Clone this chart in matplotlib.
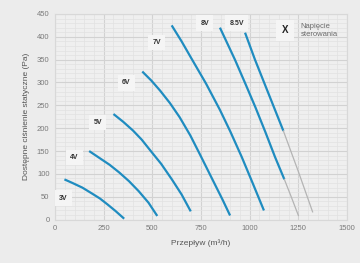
import matplotlib
matplotlib.use("Agg")
import matplotlib.pyplot as plt
from matplotlib.ticker import MultipleLocator

plt.rcParams["font.family"] = ["Liberation Sans Narrow", "Liberation Sans", "DejaVu Sans"]

# fan curves: (flow m3/h, pressure Pa)
v3_x = [48, 90, 140, 190, 231, 270, 310, 355]
v3_y = [88, 80, 70, 57, 46, 33, 19, 2]
v4_x = [175, 231, 280, 330, 380, 430, 480, 525]
v4_y = [150, 134, 120, 103, 84, 62, 37, 8]
v5_x = [300, 350, 400, 445, 488, 545, 600, 650, 697]
v5_y = [231, 214, 195, 175, 152, 122, 88, 55, 18]
v6_x = [448, 495, 540, 590, 640, 695, 745, 820, 860, 899]
v6_y = [324, 304, 282, 255, 224, 184, 142, 78, 44, 9]
v7_x = [599, 650, 700, 775, 847, 900, 959, 1015, 1073]
v7_y = [425, 390, 353, 298, 240, 193, 137, 80, 20]
v8_x = [847, 924, 980, 1030, 1080, 1130, 1178]
v8_y = [420, 350, 295, 245, 192, 137, 88]
v8_ext_x = [1178, 1215, 1250]
v8_ext_y = [88, 48, 9]
v85_x = [976, 1027, 1100, 1173]
v85_y = [409, 350, 272, 194]
v85_ext_x = [1173, 1250, 1323]
v85_ext_y = [194, 105, 17]

labels = ["3V", "4V", "5V", "6V", "7V", "8V", "8.5V"]
label_x = [42, 98, 219, 365, 522, 770, 933]
label_y = [47, 136, 212, 299, 388, 430, 430]

blue = "#1f8cc0"
grey = "#b4b4b4"
tick_col = "#7a7a7a"

fig = plt.figure(figsize=(3.6, 2.63), dpi=100)
fig.patch.set_facecolor("#ececec")
ax = fig.add_axes([0.153, 0.165, 0.811, 0.782])
ax.set_facecolor("#efefef")

ax.set_xlim(0, 1500)
ax.set_ylim(0, 450)
ax.xaxis.set_major_locator(MultipleLocator(250))
ax.xaxis.set_minor_locator(MultipleLocator(50))
ax.yaxis.set_major_locator(MultipleLocator(50))
ax.yaxis.set_minor_locator(MultipleLocator(10))
ax.grid(which="major", color="#d2d2d2", linewidth=0.8)
ax.grid(which="minor", color="#e2e2e2", linewidth=0.5)
ax.set_axisbelow(True)
ax.tick_params(which="both", length=0, labelsize=5.5, colors=tick_col, pad=4)
for s in ax.spines.values():
    s.set_color("#d8d8d8")
    s.set_linewidth(0.8)

for xs, ys in [(v3_x, v3_y), (v4_x, v4_y), (v5_x, v5_y), (v6_x, v6_y),
               (v7_x, v7_y), (v8_x, v8_y), (v85_x, v85_y)]:
    ax.plot(xs, ys, color=blue, linewidth=1.6, solid_capstyle="butt", solid_joinstyle="round")
for xs, ys in [(v8_ext_x, v8_ext_y), (v85_ext_x, v85_ext_y)]:
    ax.plot(xs, ys, color=grey, linewidth=0.9)

for t, x, y in zip(labels, label_x, label_y):
    ax.text(x, y, t, fontsize=5, fontweight="bold", color="#333333", ha="center", va="center",
            bbox=dict(boxstyle="square,pad=0.6", facecolor="#f5f5f5", edgecolor="none"))

ax.text(1181, 414, "X", fontsize=7, fontweight="bold", color="#222222", ha="center", va="center",
        bbox=dict(boxstyle="square,pad=0.6", facecolor="#f5f5f5", edgecolor="none"))
ax.text(1262, 414, "Napięcie\nsterowania", fontsize=5.5, color="#6a6a6a", ha="left", va="center",
        linespacing=1.1)

ax.set_xlabel("Przepływ (m³/h)", fontsize=6, color="#555555", labelpad=5)
ax.set_ylabel("Dostępne ciśnienie statyczne (Pa)", fontsize=6, color="#555555", labelpad=5)

fig.savefig("out.png", dpi=100, facecolor=fig.get_facecolor())
